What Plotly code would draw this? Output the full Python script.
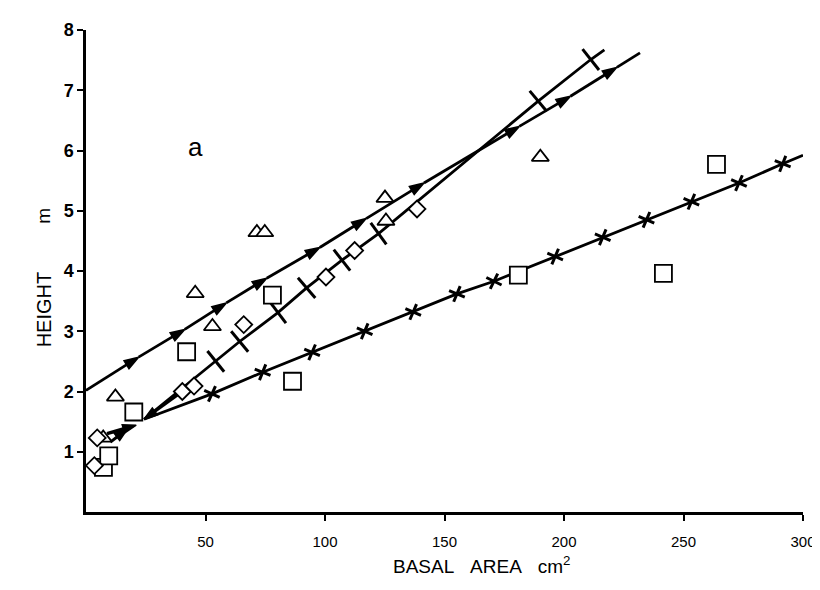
import plotly.graph_objects as go

# ---- data ----
# regression line with arrow marks
arrow_x = [0, 22.0, 41.3, 58.7, 75.6, 97.8, 117.2, 141.4, 181.3, 202.7, 222.1, 231.8]
arrow_y = [2.02, 2.57, 3.03, 3.47, 3.88, 4.39, 4.87, 5.46, 6.40, 6.90, 7.38, 7.62]

# steep line with cross ticks
cross_x = [24.3, 54.3, 64.3, 80.3, 92.3, 107.1, 122.4, 189.2, 211.2, 216.9]
cross_y = [1.54, 2.50, 2.83, 3.31, 3.72, 4.18, 4.62, 6.82, 7.51, 7.67]

# lower line with asterisk marks
star_x = [24.3, 52.7, 73.9, 94.6, 116.6, 136.9, 155.2, 170.7, 196.3, 216.2, 234.5, 253.3, 273.2, 291.5, 300]
star_y = [1.54, 1.96, 2.32, 2.65, 3.00, 3.32, 3.62, 3.83, 4.24, 4.56, 4.85, 5.15, 5.46, 5.78, 5.92]

# short arrows near the origin
start_x = [40.3, 24.3]
start_y = [2.00, 1.54]
link1_x = [8.8, 21.0]
link1_y = [1.30, 1.44]
link2_x = [10.2, 17.4]
link2_y = [1.16, 1.38]

# observations
tri_x = [7.2, 12.3, 45.7, 52.9, 71.5, 74.8, 125.1, 125.5, 190.1]
tri_y = [1.23, 1.91, 3.63, 3.08, 4.64, 4.64, 5.21, 4.83, 5.89]

sq_x = [7.3, 9.5, 20.0, 42.1, 78.0, 86.4, 180.9, 241.6, 263.8]
sq_y = [0.74, 0.93, 1.66, 2.66, 3.60, 2.17, 3.93, 3.96, 5.77]

dia_x = [3.5, 4.7, 40.3, 45.2, 66.0, 100.4, 112.4, 138.5]
dia_y = [0.77, 1.23, 2.00, 2.09, 3.11, 3.90, 4.34, 5.03]

x_ticks = [50, 100, 150, 200, 250, 300]
y_ticks = [1, 2, 3, 4, 5, 6, 7, 8]

BLACK = "#000000"
FONT = "Liberation Sans"

fig = go.Figure()

def sizes(n, s):
    return [0] + [s] * (n - 2) + [0]

LW = 2.8

# arrow line
fig.add_trace(go.Scatter(
    x=arrow_x, y=arrow_y, mode="lines+markers",
    line=dict(color=BLACK, width=LW),
    marker=dict(symbol="arrow", size=sizes(len(arrow_x), 15), color=BLACK, opacity=1,
                angleref="previous", line=dict(width=1.5, color=BLACK)),
    cliponaxis=False, showlegend=False, hoverinfo="skip"))

# cross line
fig.add_trace(go.Scatter(
    x=cross_x, y=cross_y, mode="lines+markers",
    line=dict(color=BLACK, width=LW),
    marker=dict(symbol="line-ew-open", size=sizes(len(cross_x), 19), color=BLACK, opacity=1,
                angleref="previous", line=dict(width=3, color=BLACK)),
    cliponaxis=False, showlegend=False, hoverinfo="skip"))

# asterisk line
fig.add_trace(go.Scatter(
    x=star_x, y=star_y, mode="lines+markers",
    line=dict(color=BLACK, width=LW),
    marker=dict(symbol="x-thin-open", size=sizes(len(star_x), 12), color=BLACK, opacity=1,
                angleref="previous", line=dict(width=3, color=BLACK)),
    cliponaxis=False, showlegend=False, hoverinfo="skip"))

# small arrows near origin
for xs, ys, w in [(start_x, start_y, 3), (link1_x, link1_y, 3.5), (link2_x, link2_y, 3)]:
    fig.add_trace(go.Scatter(
        x=xs, y=ys, mode="lines+markers",
        line=dict(color=BLACK, width=w),
        marker=dict(symbol="arrow", size=[0, 14], color=BLACK, opacity=1,
                    angleref="previous", line=dict(width=1.5, color=BLACK)),
        cliponaxis=False, showlegend=False, hoverinfo="skip"))

# observations
for xs, ys, sym, sz in [(tri_x, tri_y, "triangle-up", 15),
                        (sq_x, sq_y, "square", 17),
                        (dia_x, dia_y, "diamond", 13)]:
    fig.add_trace(go.Scatter(
        x=xs, y=ys, mode="markers",
        marker=dict(symbol=sym, size=sz, color="white", opacity=1,
                    line=dict(color=BLACK, width=1.8)),
        cliponaxis=False, showlegend=False, hoverinfo="skip"))

fig.update_xaxes(
    range=[0, 300], tickvals=x_ticks, ticktext=[str(v) for v in x_ticks],
    showline=True, linecolor=BLACK, linewidth=2.5, ticks="outside", ticklen=6,
    tickwidth=2, tickcolor=BLACK, showgrid=False, zeroline=False,
    tickfont=dict(family=FONT, size=15, color=BLACK), ticklabelstandoff=8)
fig.update_yaxes(
    range=[0, 8], tickvals=y_ticks, ticktext=["<b>%d</b>" % v for v in y_ticks],
    showline=True, linecolor=BLACK, linewidth=2.5, ticks="outside", ticklen=6,
    tickwidth=2, tickcolor=BLACK, showgrid=False, zeroline=False,
    tickfont=dict(family=FONT, size=18, color=BLACK))

fig.add_annotation(x=46, y=6.05, xref="x", yref="y", text="a", showarrow=False,
                   font=dict(family=FONT, size=26, color=BLACK))
fig.add_annotation(x=0.551, y=-0.14, xref="paper", yref="paper",
                   text="BASAL\u00a0\u00a0\u00a0AREA\u00a0\u00a0\u00a0cm<sup>2</sup>",
                   showarrow=False, font=dict(family=FONT, size=19, color=BLACK))
fig.add_annotation(x=-0.077, y=0.42, xref="paper", yref="paper", text="HEIGHT",
                   textangle=-90, showarrow=False,
                   font=dict(family=FONT, size=20, color=BLACK))
fig.add_annotation(x=-0.077, y=0.615, xref="paper", yref="paper", text="m",
                   textangle=-90, showarrow=False,
                   font=dict(family=FONT, size=19, color=BLACK))

fig.update_layout(
    width=820, height=590, autosize=False,
    margin=dict(l=78, r=19, t=18, b=86),
    paper_bgcolor="white", plot_bgcolor="white",
    font=dict(family=FONT, color=BLACK))

fig.write_html("out.html")
